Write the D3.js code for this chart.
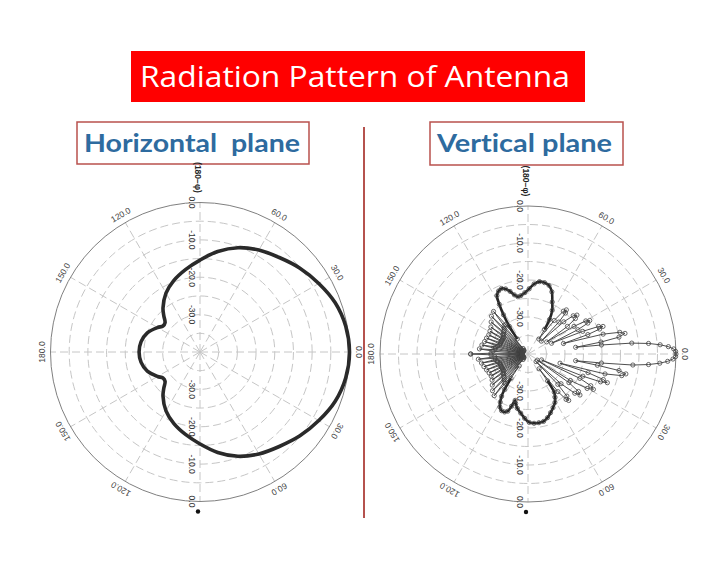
<!DOCTYPE html>
<html><head><meta charset="utf-8">
<script src="https://cdn.jsdelivr.net/npm/d3@7"></script>
<style>body{margin:0;background:#fff;} svg{display:block;} text{font-variant-ligatures:none;font-feature-settings:"liga" 0;}</style>
</head><body>
<svg id="c" width="728" height="563"></svg>
<script>
// ---------- text ----------
const titleText = "Radiation Pattern of Antenna";
const panelTitles = ["Horizontal  plane", "Vertical plane"];
const axisNote = "(180\u2212\u03c6)";

// ---------- grid / ticks ----------
const ringLevels = [-5, -10, -15, -20, -25, -30, -35];
const spokeAngles = [0, 30, 60, 90, 120, 150, 180, 210, 240, 270, 300, 330];
const dbTickValues = [0, -10, -20, -30];
const dbTickLabels = ["0.0", "-10.0", "-20.0", "-30.0"];
const angleTickValues = [0, 30, 60, 120, 150, 180, -150, -120, -60, -30];
const angleTickLabels = ["0.0", "30.0", "60.0", "120.0", "150.0", "180.0", "150.0", "120.0", "60.0", "30.0"];

// ---------- horizontal plane: [angle deg, gain dB] ----------
const hPattern = [
  [-180,-23.7],[-170,-24.0],[-160,-25.0],[-150,-26.9],[-145,-27.9],[-140,-27.8],[-135,-26.3],[-130,-24.6],
  [-120,-21.8],[-110,-19.6],[-100,-17.6],[-90,-15.4],[-80,-12.7],[-70,-10.3],[-60,-8.5],[-50,-7.0],
  [-40,-5.1],[-30,-3.3],[-20,-1.5],[-10,-0.4],[0,0],[10,-0.4],[20,-1.5],[30,-3.3],[40,-5.1],[50,-7.0],
  [60,-8.5],[70,-10.3],[80,-12.7],[90,-15.4],[100,-17.6],[110,-19.6],[120,-21.8],[130,-24.6],
  [135,-26.3],[140,-27.8],[145,-27.9],[150,-26.9],[160,-25.0],[170,-24.0]
];

// ---------- vertical plane segments: [angle deg, gain dB] ----------
const vBackLower = [
  [-180,-24.5],[-178.7,-30],[-177,-38.5],[-175.3,-31],[-174,-26.5],[-172.7,-31],[-171.5,-38.5],[-170.3,-31],
  [-169,-27.2],[-167.7,-31.5],[-166.5,-38.5],[-165.3,-31.5],[-164,-27.6],[-162.7,-32],[-161.5,-38.5],[-160.3,-32],
  [-159,-28],[-157.7,-32],[-156.5,-38.5],[-155.3,-32],[-154,-28.3],[-152.7,-32],[-151.5,-38.5],[-150.3,-32],
  [-149,-28.4],[-147.7,-32],[-146.5,-38.5],[-145.3,-32],[-144,-28],[-142.7,-31.5],[-141.5,-38.5],[-140.3,-31.5],
  [-139,-27.2],[-137.7,-31],[-136.5,-38.5],[-135.3,-31],[-134,-26.2],[-132.7,-30.5],[-131.5,-38],[-130.3,-30],
  [-129,-25.5],[-127.7,-30],[-126.5,-36]
];
const vWingLower = [
  [-125,-32],[-123.5,-28.5],[-122,-26.5],[-120,-25],[-118,-23.8],[-115,-23.1],[-112,-23.1],[-109.5,-23.6],
  [-107.5,-25.2],[-105.5,-27],[-104,-26.2],[-101,-25],[-97,-23.9],[-93,-22.6],[-89,-21.5],[-85,-21.2],
  [-81,-21.2],[-77,-21.3],[-73,-22],[-69,-23],[-65,-24],[-61,-25],[-58,-26.2],[-55.5,-27.5],[-54,-31]
];
const vSideLower = [
  [-53,-35],[-51.5,-27],[-50,-24],[-48.8,-23.3],[-47.3,-24.5],[-45.5,-28.5],[-43.5,-37],
  [-42,-28],[-40,-23.5],[-38.3,-22.1],[-36.6,-23],[-35,-26.5],[-33.5,-37],
  [-32,-26.5],[-30.2,-21.5],[-28.4,-19.9],[-26.8,-21],[-25.2,-24.5],[-23.5,-36],
  [-22,-24],[-21,-19],[-19.9,-17.2],[-18.7,-18.5],[-17.3,-23],[-16,-31],
  [-14.5,-18.5],[-13,-14],[-11.5,-13],[-10.3,-15],[-9.2,-21]
];
const vMainLobe = [
  [-8,-27],[-7,-20],[-6,-11.5],[-5,-7.3],[-4,-4.3],[-3,-2.2],[-2,-0.8],[-1,-0.1],[0,0],
  [1,-0.1],[2,-0.6],[3,-2],[4,-4.2],[5,-7.3],[6,-11.8],[7,-20],[8,-27]
];
const vSideUpper = [
  [9.3,-20],[10.5,-15],[12,-13.2],[13.3,-14.5],[14.8,-19],[16.5,-30],
  [18,-23],[19.2,-19.5],[20.2,-18.4],[21.3,-19.5],[22.5,-24],[24.5,-33],
  [26,-25],[27.3,-21.8],[28.5,-21],[29.8,-22],[31,-25.5],[33,-34],
  [35,-27],[36.8,-24],[38.5,-23.1],[40.2,-24],[42,-27],[44,-35],
  [46,-28],[47.5,-25],[49,-24.2],[50.5,-25],[52,-28.5],[54,-35]
];
const vWingUpper = [
  [56,-32],[58,-29],[61,-26.5],[65,-24.5],[69,-22],[73,-20.6],[77,-20.2],[81,-20.2],[85,-21],
  [89,-22.4],[93,-23.4],[97,-24.1],[100,-24.3],[103,-23.6],[106,-22.4],[109,-21.4],[112,-20.9],
  [115,-21.2],[118,-22.1],[120,-24.5],[122,-27.5],[124,-31],[125.5,-35]
];
const vBackUpper = [
  [127,-30],[129,-25.2],[130.3,-30],[131.5,-38],[132.7,-30.5],[134,-25.8],[135.3,-31],[136.5,-38.5],
  [137.7,-31],[139,-26.8],[140.3,-31.5],[141.5,-38.5],[142.7,-31.5],[144,-27.6],[145.3,-32],[146.5,-38.5],
  [147.7,-32],[149,-28],[150.3,-32],[151.5,-38.5],[152.7,-32],[154,-28.2],[155.3,-32],[156.5,-38.5],
  [157.7,-32],[159,-28],[160.3,-32],[161.5,-38.5],[162.7,-32],[164,-27.8],[165.3,-31.5],[166.5,-38.5],
  [167.7,-31],[169,-27.3],[170.3,-31],[171.5,-38.5],[172.7,-31],[174,-26.8],[175.3,-30.5],[177,-38.5],
  [178.7,-30],[180,-24.5]
];

// ---------- drawing ----------
const svg = d3.select("#c");
const FONT = "'Liberation Sans', Arial, sans-serif";

function polarPanel(cx, cy, R) {
  const g = svg.append("g");
  const r = d3.scaleLinear().domain([-40, 0]).range([0, R]).clamp(true);
  const toRad = a => (90 - a) * Math.PI / 180;       // lineRadial angle (clockwise from 12 o'clock)
  const px = (a, rr) => cx + rr * Math.cos(a * Math.PI / 180);
  const py = (a, rr) => cy - rr * Math.sin(a * Math.PI / 180);

  g.selectAll("circle.ring").data(ringLevels).join("circle")
    .attr("class", "ring").attr("cx", cx).attr("cy", cy).attr("r", d => r(d))
    .attr("fill", "none").attr("stroke", "#c6c6c6").attr("stroke-width", 1)
    .attr("stroke-dasharray", "8,4");
  g.selectAll("line.spoke").data(spokeAngles).join("line")
    .attr("class", "spoke")
    .attr("x1", cx).attr("y1", cy)
    .attr("x2", d => px(d, r(0))).attr("y2", d => py(d, r(0)))
    .attr("stroke", "#c6c6c6").attr("stroke-width", 1).attr("stroke-dasharray", "8,4");
  g.append("circle").attr("cx", cx).attr("cy", cy).attr("r", r(0))
    .attr("fill", "none").attr("stroke", "#808080").attr("stroke-width", 1);

  // dB labels along the vertical axis (upper and lower half)
  const dbLab = [];
  dbTickValues.forEach((v, i) => {
    dbLab.push({ x: cx - 8, y: cy - r(v), t: dbTickLabels[i] });
    dbLab.push({ x: cx - 8, y: cy + r(v), t: dbTickLabels[i] });
  });
  g.selectAll("text.db").data(dbLab).join("text")
    .attr("class", "db")
    .attr("transform", d => `translate(${d.x},${d.y}) rotate(90)`)
    .attr("text-anchor", "middle").attr("dominant-baseline", "central")
    .attr("font-family", FONT).attr("font-size", 8.5).attr("fill", "#333")
    .text(d => d.t);

  // angle labels
  g.selectAll("text.ang").data(angleTickValues).join("text")
    .attr("class", "ang")
    .attr("transform", d => `translate(${px(d, R + 9)},${py(d, R + 9)}) rotate(${90 - d})`)
    .attr("text-anchor", "middle").attr("dominant-baseline", "central")
    .attr("font-family", FONT).attr("font-size", 8.5).attr("fill", "#444")
    .text((d, i) => angleTickLabels[i]);

  g.append("text")
    .attr("transform", `translate(${cx - 2},${cy - R - 25}) rotate(90)`)
    .attr("text-anchor", "middle").attr("dominant-baseline", "central")
    .attr("font-family", FONT).attr("font-size", 8.5).attr("font-weight", "bold").attr("fill", "#222")
    .text(axisNote);
  g.append("circle").attr("cx", cx - 2).attr("cy", cy + R + 10).attr("r", 2.2).attr("fill", "#111");

  return { g, r, toRad, px, py, cx, cy };
}

// Title
svg.append("rect").attr("x", 131).attr("y", 51).attr("width", 454).attr("height", 51).attr("fill", "#ff0000");
svg.append("text").attr("x", 140).attr("y", 87).attr("font-family", "'Open Sans', Lato, sans-serif")
  .attr("font-size", 29).attr("fill", "#fff").attr("textLength", 430).attr("lengthAdjust", "spacingAndGlyphs")
  .text(titleText);

// Sub titles
const boxes = [
  { x: 77, y: 122, w: 232, h: 42, tx: 84, tl: 216 },
  { x: 430, y: 122, w: 193, h: 43, tx: 437, tl: 175 }
];
boxes.forEach((b, i) => {
  svg.append("rect").attr("x", b.x).attr("y", b.y).attr("width", b.w).attr("height", b.h)
    .attr("fill", "#fff").attr("stroke", "#b9514d").attr("stroke-width", 1.5);
  svg.append("text").attr("x", b.tx).attr("y", 152).attr("font-family", "Lato, 'Open Sans', sans-serif")
    .attr("font-weight", "bold").attr("font-size", 25).attr("fill", "#2e6b9f")
    .attr("xml:space", "preserve").style("white-space", "pre")
    .attr("textLength", b.tl).attr("lengthAdjust", "spacingAndGlyphs")
    .text(panelTitles[i]);
});

// divider
svg.append("line").attr("x1", 364).attr("x2", 364).attr("y1", 127).attr("y2", 518)
  .attr("stroke", "#b5524e").attr("stroke-width", 2);

// Left panel: horizontal plane
const L = polarPanel(200, 352, 149.5);
L.g.append("path").datum(hPattern)
  .attr("transform", `translate(${L.cx},${L.cy})`)
  .attr("d", d3.lineRadial().angle(d => L.toRad(d[0])).radius(d => L.r(d[1]))
    .curve(d3.curveCatmullRomClosed.alpha(0.5)))
  .attr("fill", "none").attr("stroke", "#2a2a2a").attr("stroke-width", 3.6);

// Right panel: vertical plane
const Rt = polarPanel(528, 354, 148);
const vPattern = [].concat(vBackLower, vWingLower, vSideLower, vMainLobe, vSideUpper, vWingUpper, vBackUpper);
Rt.g.append("path").datum(vPattern)
  .attr("transform", `translate(${Rt.cx},${Rt.cy})`)
  .attr("d", d3.lineRadial().angle(d => Rt.toRad(d[0])).radius(d => Rt.r(d[1])))
  .attr("fill", "none").attr("stroke", "#3a3a3a").attr("stroke-width", 0.9);
// the densely sampled wings read as a heavy line in the reference
[vWingLower, vWingUpper].forEach(w => {
  Rt.g.append("path").datum(w)
    .attr("transform", `translate(${Rt.cx},${Rt.cy})`)
    .attr("d", d3.lineRadial().angle(d => Rt.toRad(d[0])).radius(d => Rt.r(d[1]))
      .curve(d3.curveCatmullRom.alpha(0.5)))
    .attr("fill", "none").attr("stroke", "#262626").attr("stroke-width", 2.6);
});
Rt.g.selectAll("circle.mk").data(vPattern).join("circle")
  .attr("class", "mk")
  .attr("cx", d => Rt.px(d[0], Rt.r(d[1]))).attr("cy", d => Rt.py(d[0], Rt.r(d[1])))
  .attr("r", 2.1).attr("fill", "none").attr("stroke", "#444").attr("stroke-width", 0.8);
</script>
</body></html>
